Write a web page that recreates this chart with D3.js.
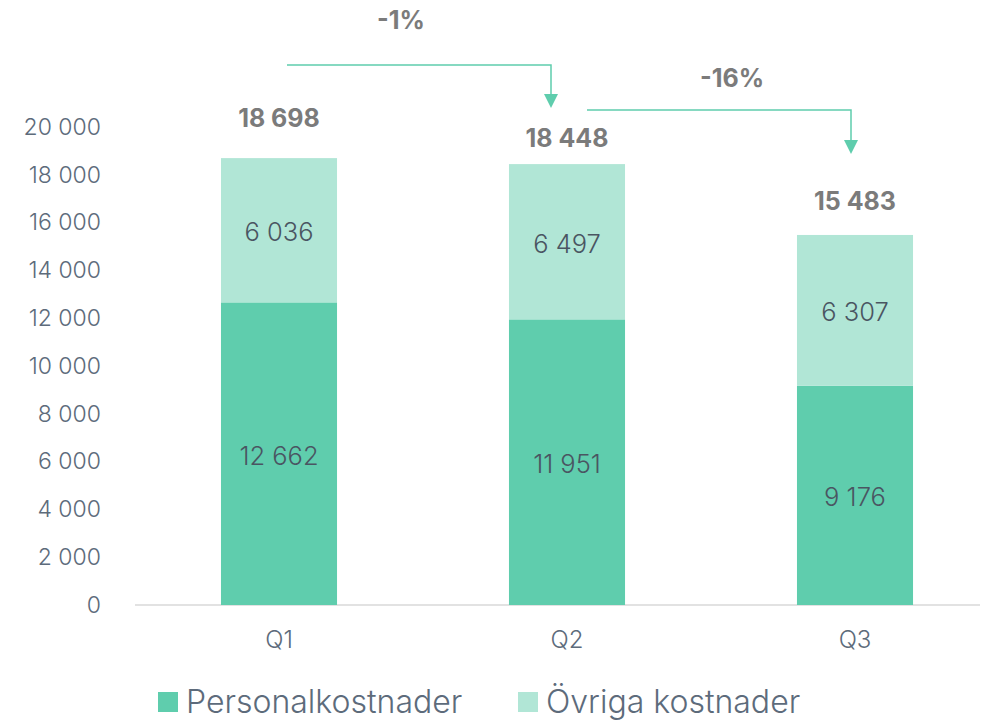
<!DOCTYPE html>
<html><head><meta charset="utf-8">
<script src="https://cdn.jsdelivr.net/npm/d3@7"></script>
<style>body{margin:0;background:#fff}svg{display:block}</style>
</head><body><svg id="c" width="982" height="723"></svg>
<script>
const categories = ["Q1", "Q2", "Q3"];
const personal = [12662, 11951, 9176];
const ovriga = [6036, 6497, 6307];
const totals = [18698, 18448, 15483];
const changes = ["-1%", "-16%"];
const seriesNames = ["Personalkostnader", "Övriga kostnader"];
const yTicks = [0, 2000, 4000, 6000, 8000, 10000, 12000, 14000, 16000, 18000, 20000];

const colors = ["#5fcdad", "#b1e6d6"];
const font = "Inter, 'Noto Sans', sans-serif";
const fmt = v => d3.format(",")(v).replace(/,/g, " ");

const svg = d3.select("#c");
const x = d3.scaleBand().domain(categories).range([135, 999]).paddingInner(0.597).paddingOuter(0.2985);
const y = d3.scaleLinear().domain([0, 20000]).range([605, 127]);

// baseline
svg.append("line").attr("x1", 135).attr("x2", 980).attr("y1", y(0)).attr("y2", y(0))
  .attr("stroke", "#d9d9d9").attr("stroke-width", 1.5);

// y axis labels
const yAxis = d3.axisLeft(y).tickValues(yTicks).tickFormat(fmt).tickSize(0).tickPadding(0);
const ya = svg.append("g").attr("transform", "translate(101,0)").call(yAxis);
ya.select(".domain").remove();
ya.selectAll("text").attr("font-family", font).attr("font-size", 23).attr("font-weight", 300).attr("fill", "#5d6b7b");

// x axis labels
const xAxis = d3.axisBottom(x).tickSize(0).tickPadding(0);
const xa = svg.append("g").attr("transform", "translate(0,631)").call(xAxis);
xa.select(".domain").remove();
xa.selectAll("text").attr("font-family", font).attr("font-size", 24).attr("font-weight", 300).attr("fill", "#5d6b7b");

const data = categories.map((c, i) => ({cat: c, Personalkostnader: personal[i], "Övriga kostnader": ovriga[i]}));
const stack = d3.stack().keys(seriesNames)(data);

stack.forEach((s, si) => {
  const g = svg.append("g");
  g.selectAll("rect").data(s).join("rect")
    .attr("x", d => x(d.data.cat)).attr("width", x.bandwidth())
    .attr("y", d => y(d[1])).attr("height", d => y(d[0]) - y(d[1]))
    .attr("fill", colors[si]);
  g.selectAll("text").data(s).join("text")
    .attr("x", d => x(d.data.cat) + x.bandwidth() / 2)
    .attr("y", d => (y(d[0]) + y(d[1])) / 2 + 2)
    .attr("dy", "0.35em").attr("text-anchor", "middle")
    .attr("font-family", font).attr("font-size", 25.5).attr("font-weight", 300).attr("fill", "#4a5562")
    .text(d => fmt(d[1] - d[0]));
});

// totals
const totalOffset = [40, 26, 34];
svg.append("g").selectAll("text").data(totals).join("text")
  .attr("x", (d, i) => x(categories[i]) + x.bandwidth() / 2)
  .attr("y", (d, i) => y(d) - totalOffset[i])
  .attr("dy", "0.35em").attr("text-anchor", "middle")
  .attr("font-family", font).attr("font-size", 25).attr("font-weight", 700).attr("fill", "#7b7b7b")
  .text(fmt);

// change arrows
const arrowLayout = [
  {x0: x(categories[0]) + x.bandwidth() / 2 + 8, x1: x(categories[1]) + x.bandwidth() / 2 - 16, yLine: 65, yTip: 108, yLabel: 20, xLabel: 401},
  {x0: x(categories[1]) + x.bandwidth() / 2 + 20, x1: x(categories[2]) + x.bandwidth() / 2 - 4, yLine: 110, yTip: 154, yLabel: 78, xLabel: 732}
];
changes.forEach((c, i) => {
  const a = arrowLayout[i];
  svg.append("path")
    .attr("d", `M${a.x0},${a.yLine}H${a.x1}V${a.yTip - 12}`)
    .attr("fill", "none").attr("stroke", colors[0]).attr("stroke-width", 1.5);
  svg.append("path")
    .attr("d", `M${a.x1 - 7},${a.yTip - 14}L${a.x1 + 7},${a.yTip - 14}L${a.x1},${a.yTip}Z`)
    .attr("fill", colors[0]);
  svg.append("text").attr("x", a.xLabel).attr("y", a.yLabel).attr("dy", "0.35em")
    .attr("text-anchor", "middle").attr("font-family", font).attr("font-size", 25)
    .attr("font-weight", 700).attr("fill", "#7b7b7b").text(c);
});

// legend
const legendX = [158, 518];
seriesNames.forEach((n, i) => {
  svg.append("rect").attr("x", legendX[i]).attr("y", 692).attr("width", 20).attr("height", 20).attr("fill", colors[i]);
  svg.append("text").attr("x", legendX[i] + 28).attr("y", 702).attr("dy", "0.35em")
    .attr("font-family", font).attr("font-size", 32).attr("font-weight", 300).attr("fill", "#5d6b7b").text(n);
});
</script></body></html>
